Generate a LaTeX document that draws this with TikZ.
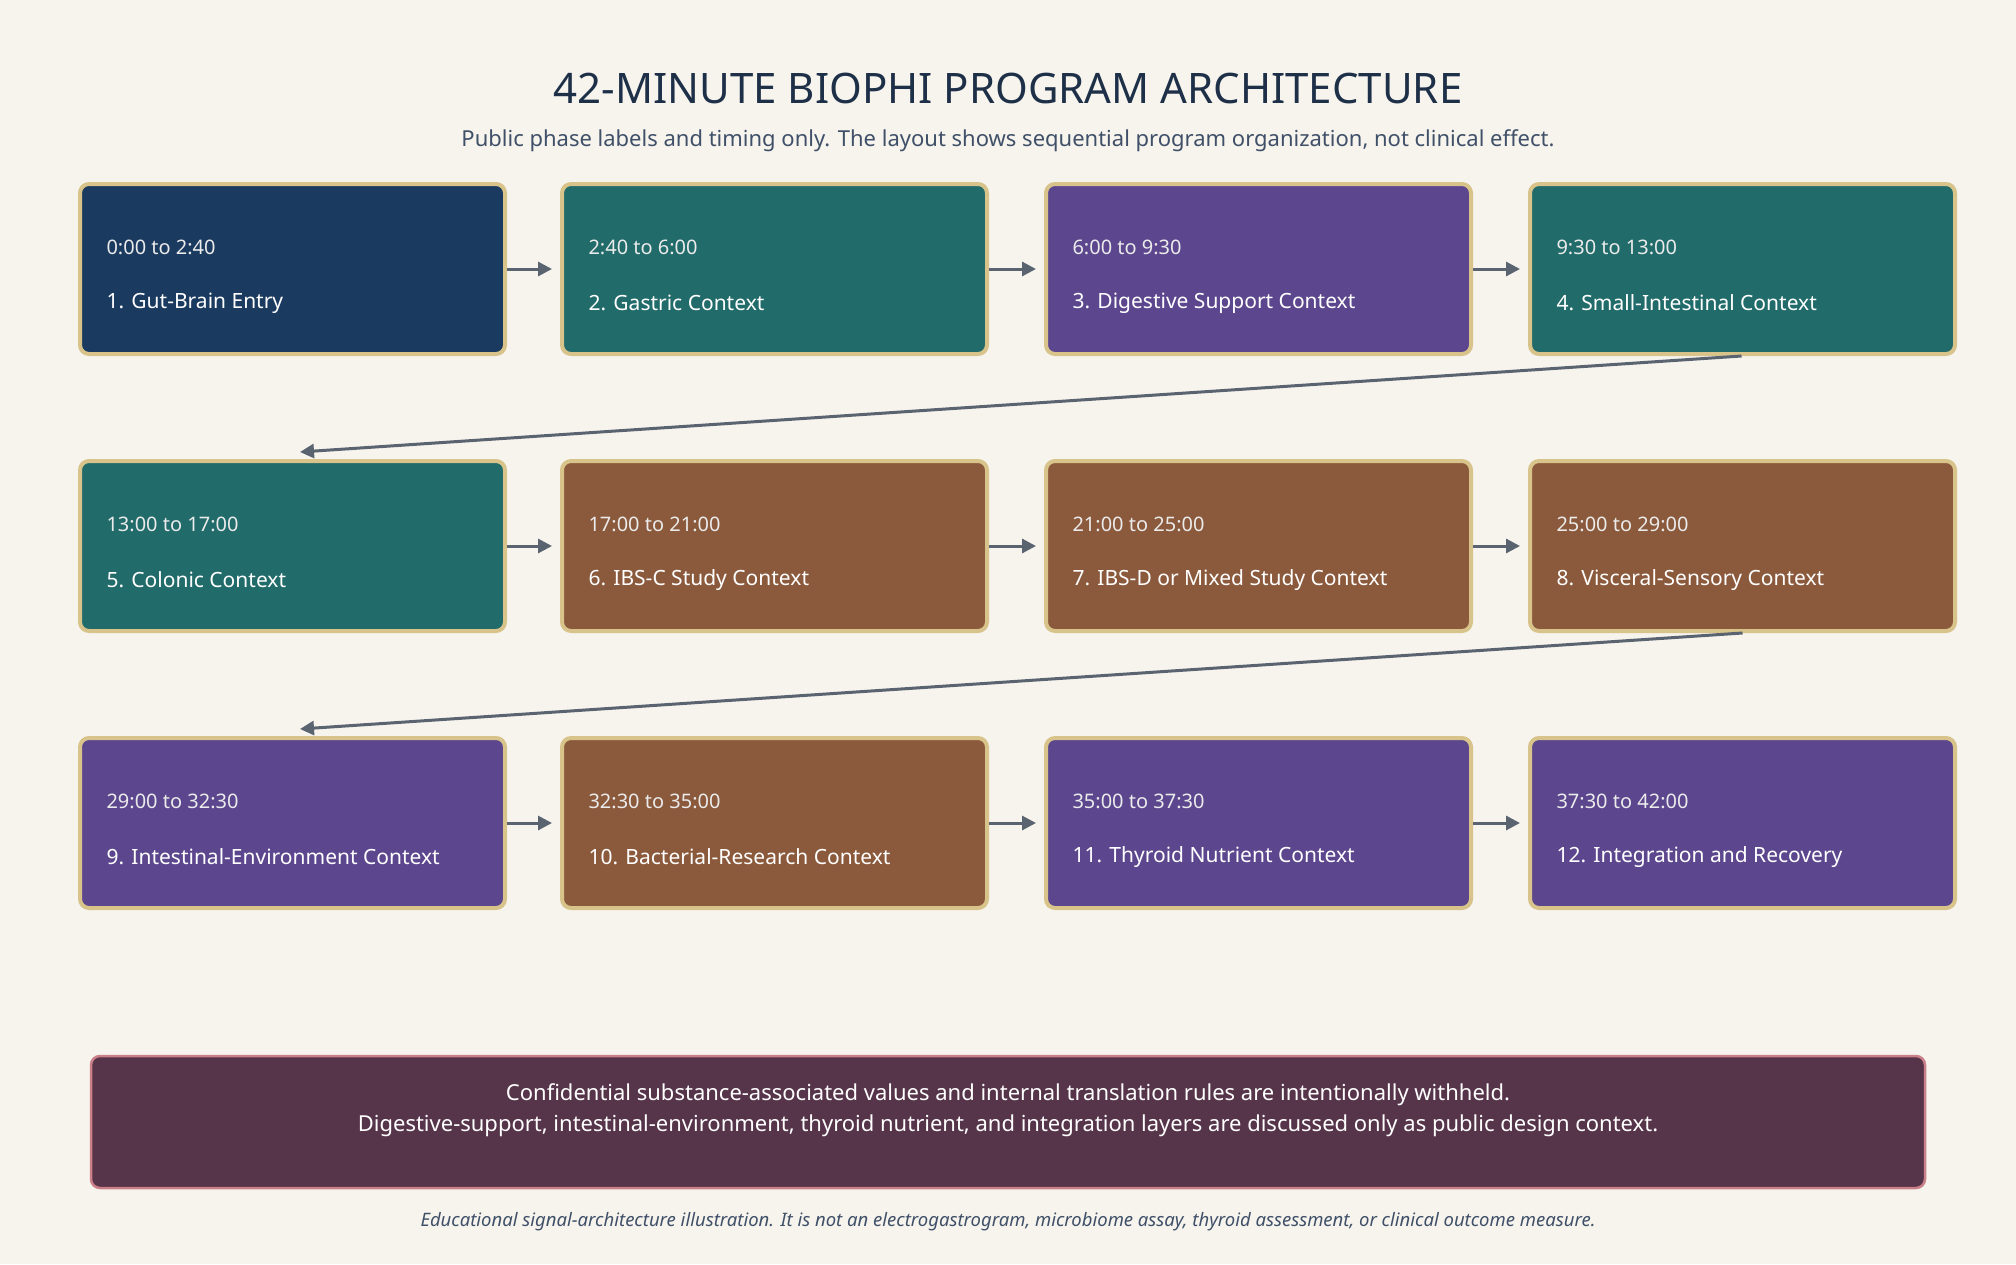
\documentclass[tikz,border=0pt]{standalone}
\usepackage{fontspec}
\setmainfont{Noto Sans}
\usetikzlibrary{arrows.meta}
\definecolor{bg}{HTML}{F7F4EE}
\definecolor{navy}{HTML}{1B3A5F}
\definecolor{teal}{HTML}{216B6A}
\definecolor{purp}{HTML}{5C478E}
\definecolor{brwn}{HTML}{8B5A3C}
\definecolor{bord}{HTML}{D8C48A}
\definecolor{arr}{HTML}{5A6470}
\definecolor{note}{HTML}{56344A}
\definecolor{noteb}{HTML}{C98088}
\definecolor{ttl}{HTML}{1E3048}
\definecolor{sub}{HTML}{3F5068}
\begin{document}
\begin{tikzpicture}[x=1pt,y=-1pt,
  box/.style={draw=bord,line width=4pt,rounded corners=9pt,minimum width=425pt,minimum height=170pt,inner sep=0pt},
  lbl/.style={anchor=west,text=white,font=\bfseries\fontsize{21}{25}\selectfont},
  tm/.style={anchor=west,text=white!92!black,font=\fontsize{20}{24}\selectfont},
  ar/.style={draw=arr,line width=3pt,-{Triangle[length=14pt,width=14pt]}}]
\fill[bg] (0,0) rectangle (2016,1264);
\useasboundingbox (0,0) rectangle (2016,1264);
\node[text=ttl,font=\bfseries\fontsize{42}{50}\selectfont] (title) at (1008,88) {42-MINUTE BIOPHI PROGRAM ARCHITECTURE};
\node[text=sub,font=\fontsize{22}{26}\selectfont] (subt) at (1008,141) {Public phase labels and timing only. The layout shows sequential program organization, not clinical effect.};
\def\xs{{292.5,774.5,1258.5,1742.5}}
\foreach \n/\c/\r/\col/\t/\tt in {
1/0/0/navy/1. Gut-Brain Entry/0:00 to 2:40,
2/1/0/teal/2. Gastric Context/2:40 to 6:00,
3/2/0/purp/3. Digestive Support Context/6:00 to 9:30,
4/3/0/teal/4. Small-Intestinal Context/9:30 to 13:00,
5/0/1/teal/5. Colonic Context/13:00 to 17:00,
6/1/1/brwn/6. IBS-C Study Context/17:00 to 21:00,
7/2/1/brwn/7. IBS-D or Mixed Study Context/21:00 to 25:00,
8/3/1/brwn/8. Visceral-Sensory Context/25:00 to 29:00,
9/0/2/purp/9. Intestinal-Environment Context/29:00 to 32:30,
10/1/2/brwn/10. Bacterial-Research Context/32:30 to 35:00,
11/2/2/purp/11. Thyroid Nutrient Context/35:00 to 37:30,
12/3/2/purp/12. Integration and Recovery/37:30 to 42:00}{
  \pgfmathsetmacro\xx{\xs[\c]}
  \pgfmathsetmacro\yy{269+277*\r}
  \node[box,fill=\col] (b\n) at (\xx,\yy) {};
  \node[lbl] (l\n) at ([xshift=25pt,yshift=-34pt]b\n.west) {\t};
  \node[tm] (t\n) at ([xshift=25pt,yshift=22pt]b\n.west) {\tt};
}
\foreach \a/\b in {1/2,2/3,3/4,5/6,6/7,7/8,9/10,10/11,11/12}{
  \draw[ar] (b\a.east) -- ([xshift=-8pt]b\b.west);
}
\coordinate (e5) at (300,452);
\coordinate (e9) at (300,729);
\draw[ar] ([xshift=-1pt]b4.south) ++(0,0) -- (e5);
\draw[ar] (b8.south) -- (e9);
\node[draw=noteb,line width=2.5pt,fill=note,rounded corners=9pt,minimum width=1834pt,minimum height=132pt] (nb) at (1008,1122) {};
\node[text=white,align=center,font=\fontsize{22}{31}\selectfont] (nt) at (1008,1110) {Confidential substance-associated values and internal translation rules are intentionally withheld.\\Digestive-support, intestinal-environment, thyroid nutrient, and integration layers are discussed only as public design context.};
\node[text=sub,font=\itshape\fontsize{18.5}{22}\selectfont] (foot) at (1008,1222) {Educational signal-architecture illustration. It is not an electrogastrogram, microbiome assay, thyroid assessment, or clinical outcome measure.};
\end{tikzpicture}
\end{document}
